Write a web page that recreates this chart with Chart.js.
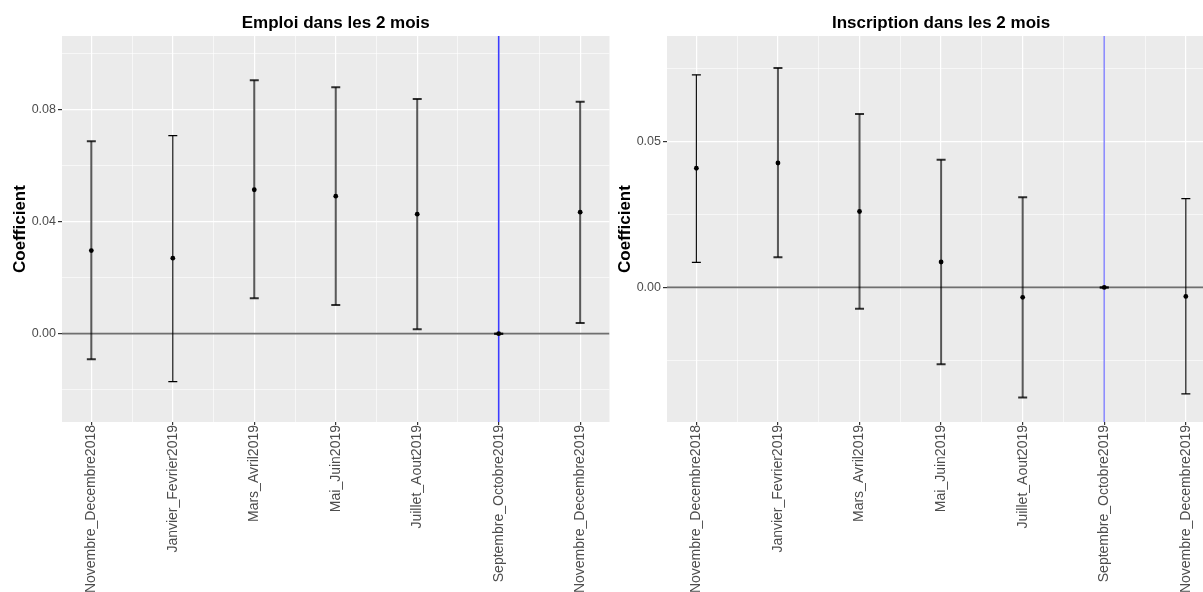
<!DOCTYPE html>
<html>
<head>
<meta charset="utf-8">
<script src="https://cdn.jsdelivr.net/npm/chart.js@4.4.1/dist/chart.umd.min.js"></script>
<style>
  html, body { margin: 0; padding: 0; background: #fff; }
  body { width: 1203px; height: 592px; overflow: hidden; position: relative; }
  canvas { position: absolute; top: 0; }
  #c1 { left: 0; }
  #c2 { left: 605px; }
</style>
</head>
<body>
<canvas id="c1" width="616" height="592"></canvas>
<canvas id="c2" width="616" height="592"></canvas>
<script>
const categories = ['Novembre_Decembre2018', 'Janvier_Fevrier2019', 'Mars_Avril2019',
  'Mai_Juin2019', 'Juillet_Aout2019', 'Septembre_Octobre2019', 'Novembre_Decembre2019'];

// Emploi dans les 2 mois
const emploiCoef = [0.0296, 0.0269, 0.0513, 0.0490, 0.0426, 0, 0.0433];
const emploiLow  = [-0.0091, -0.0171, 0.0126, 0.0102, 0.0016, 0, 0.0038];
const emploiHigh = [0.0686, 0.0706, 0.0903, 0.0878, 0.0836, 0, 0.0827];
const emploiTicks = [0, 0.04, 0.08];

// Inscription dans les 2 mois
const inscrCoef = [0.0408, 0.0426, 0.0260, 0.0087, -0.0034, 0, -0.0031];
const inscrLow  = [0.0086, 0.0103, -0.0073, -0.0263, -0.0377, 0, -0.0365];
const inscrHigh = [0.0728, 0.0751, 0.0594, 0.0437, 0.0309, 0, 0.0304];
const inscrTicks = [0, 0.05];

const refCategory = 5; // Septembre_Octobre2019

Chart.defaults.font.family = '"Liberation Sans", Arial, sans-serif';

const panelBg = {
  id: 'panelBg',
  beforeDraw(chart) {
    const a = chart.chartArea, ctx = chart.ctx;
    ctx.save();
    ctx.fillStyle = '#EBEBEB';
    ctx.fillRect(a.left, a.top, a.right - a.left, a.bottom - a.top);
    ctx.restore();
  }
};

const refLines = {
  id: 'refLines',
  beforeDatasetsDraw(chart, args, opts) {
    const a = chart.chartArea, ctx = chart.ctx;
    const x = chart.scales.x, y = chart.scales.y;
    ctx.save();
    ctx.beginPath();
    ctx.rect(a.left, a.top, a.right - a.left, a.bottom - a.top);
    ctx.clip();
    const y0 = y.getPixelForValue(0);
    ctx.strokeStyle = 'rgba(50,50,50,0.7)';
    ctx.lineWidth = 1.8;
    ctx.beginPath();
    ctx.moveTo(a.left, y0);
    ctx.lineTo(a.right, y0);
    ctx.stroke();
    const xv = x.getPixelForValue(opts.category);
    ctx.strokeStyle = opts.color;
    ctx.lineWidth = 1.6;
    ctx.beginPath();
    ctx.moveTo(xv, a.top);
    ctx.lineTo(xv, a.bottom);
    ctx.stroke();
    ctx.restore();
  }
};

const panelTitle = {
  id: 'panelTitle',
  afterDraw(chart, args, opts) {
    const a = chart.chartArea, ctx = chart.ctx;
    ctx.save();
    ctx.font = 'bold 17px "Liberation Sans", Arial, sans-serif';
    ctx.fillStyle = '#000';
    ctx.textAlign = 'center';
    ctx.textBaseline = 'alphabetic';
    ctx.fillText(opts.text, (a.left + a.right) / 2, 28);
    ctx.restore();
  }
};

function makePanel(id, title, coef, low, high, yMin, yMax, step, majors, thin, blue) {
  const near = (v, list) => list.some(t => Math.abs(t - v) < step / 10);
  const errData = categories.flatMap((c, i) => [
    { x: i, y: low[i] }, { x: i, y: high[i] }, { x: i, y: null }
  ]);
  const pts = categories.map((c, i) => ({ x: i, y: coef[i] }));
  const isThin = i => thin.includes(i);

  return new Chart(document.getElementById(id), {
    type: 'scatter',
    data: {
      datasets: [
        {
          data: pts,
          order: 0,
          pointRadius: 2.4,
          pointBackgroundColor: '#000',
          pointBorderColor: '#000',
          pointBorderWidth: 0
        },
        {
          type: 'line',
          data: errData,
          order: 1,
          showLine: true,
          spanGaps: false,
          fill: false,
          borderColor: 'rgba(0,0,0,0.65)',
          borderWidth: 2,
          segment: {
            borderColor: ctx => isThin(ctx.p0.parsed.x) ? '#000' : 'rgba(0,0,0,0.65)',
            borderWidth: ctx => isThin(ctx.p0.parsed.x) ? 1.1 : 2
          },
          pointStyle: 'line',
          pointRadius: 4.5,
          pointBorderWidth: ctx => ctx.raw && isThin(ctx.raw.x) ? 1.3 : 2,
          pointBorderColor: ctx => ctx.raw && isThin(ctx.raw.x) ? '#000' : 'rgba(0,0,0,0.8)'
        }
      ]
    },
    options: {
      responsive: false,
      animation: false,
      devicePixelRatio: 1,
      layout: { padding: { left: 10, top: 36, right: 3, bottom: 0 } },
      plugins: {
        legend: { display: false },
        tooltip: { enabled: false },
        refLines: { category: refCategory, color: blue },
        panelTitle: { text: title }
      },
      scales: {
        x: {
          type: 'linear',
          min: -0.36,
          max: categories.length - 1 + 0.36,
          afterFit: s => { s.height = 170; s.paddingLeft = 0; s.paddingRight = 0; },
          border: { display: false },
          grid: {
            color: '#fff',
            lineWidth: ctx => ctx.tick && Number.isInteger(ctx.tick.value) ? 1.2 : 0.6,
            tickColor: ctx => ctx.tick && Number.isInteger(ctx.tick.value) ? '#333' : 'rgba(0,0,0,0)',
            tickLength: 3
          },
          ticks: {
            stepSize: 0.5,
            includeBounds: false,
            autoSkip: false,
            maxRotation: 90,
            minRotation: 90,
            padding: 0,
            color: '#4d4d4d',
            font: { size: 14 },
            callback: v => Number.isInteger(v) ? categories[v] : ''
          }
        },
        y: {
          type: 'linear',
          min: yMin,
          max: yMax,
          afterFit: s => { s.width = 52; s.paddingTop = 0; s.paddingBottom = 0; },
          border: { display: false },
          title: {
            display: true,
            text: 'Coefficient',
            color: '#000',
            font: { size: 17, weight: 'bold' },
            padding: { top: 0, bottom: 0 }
          },
          grid: {
            color: '#fff',
            lineWidth: ctx => ctx.tick && near(ctx.tick.value, majors) ? 1.2 : 0.6,
            tickColor: ctx => ctx.tick && near(ctx.tick.value, majors) ? '#333' : 'rgba(0,0,0,0)',
            tickLength: 4
          },
          ticks: {
            stepSize: step,
            includeBounds: false,
            padding: 2,
            color: '#4d4d4d',
            font: { size: 12.5 },
            callback: v => near(v, majors) ? Math.abs(v).toFixed(2) : ''
          }
        }
      }
    },
    plugins: [panelBg, refLines, panelTitle]
  });
}

makePanel('c1', 'Emploi dans les 2 mois', emploiCoef, emploiLow, emploiHigh,
  -0.0315, 0.1061, 0.02, emploiTicks, [1], '#3c3cff');
makePanel('c2', 'Inscription dans les 2 mois', inscrCoef, inscrLow, inscrHigh,
  -0.0461, 0.0861, 0.025, inscrTicks, [0, 6], 'rgba(80,80,255,0.65)');
</script>
</body>
</html>
